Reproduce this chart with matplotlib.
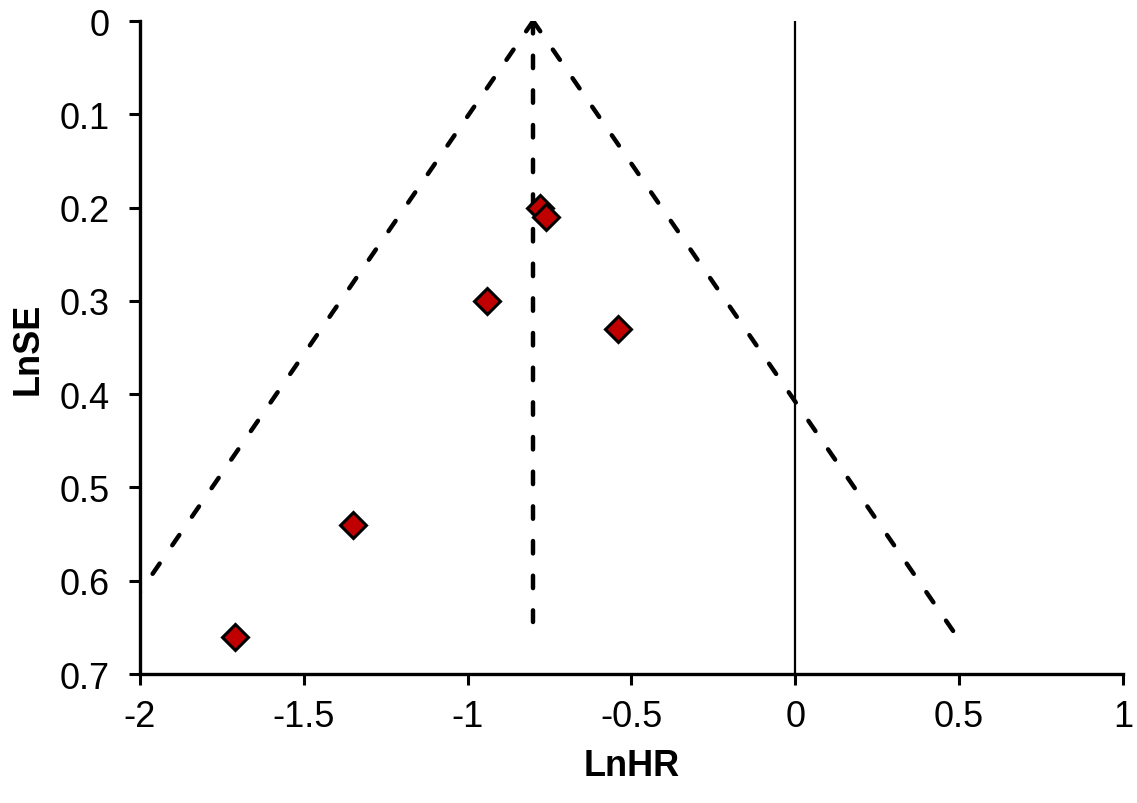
import numpy as np
import matplotlib
matplotlib.use("Agg")
import matplotlib.pyplot as plt
from matplotlib.ticker import FormatStrFormatter

plt.rcParams['font.family'] = ['Liberation Sans', 'DejaVu Sans']

# study estimates
ln_hr = [-0.78, -0.76, -0.94, -0.54, -1.35, -1.71]
ln_se = [0.20, 0.21, 0.30, 0.33, 0.54, 0.66]

pooled = -0.80        # pooled LnHR (centre of the funnel)
se_funnel = 0.654     # funnel limits drawn down to this SE
se_centre = 0.644     # centre line drawn down to this SE
x_ticks = [-2, -1.5, -1, -0.5, 0, 0.5, 1]
y_ticks = [0, 0.1, 0.2, 0.3, 0.4, 0.5, 0.6, 0.7]

fig = plt.figure(figsize=(11.37, 8.04), dpi=100)
ax = fig.add_axes([0.1231, 0.1604, 0.8646, 0.8122])

se_line = np.array([0, se_funnel])
dash = dict(color='black', lw=3.2, linestyle=(0, (2.8, 5.0)),
            dash_capstyle='round', zorder=2)
ax.plot(pooled - 1.96 * se_line, se_line, **dash)
ax.plot(pooled + 1.96 * se_line, se_line, **dash)
ax.plot([pooled, pooled], [0, se_centre], **dash)

# line of no effect
ax.plot([0, 0], [0, 0.7], color='black', lw=1.6, zorder=1)

ax.plot(ln_hr, ln_se, linestyle='none', marker='D', ms=13.5,
        markerfacecolor='#C00000', markeredgecolor='black', mew=2.2, zorder=3)

ax.set_xlim(-2, 1)
ax.set_ylim(0.7, 0)
ax.set_xticks(x_ticks)
ax.set_yticks(y_ticks)
ax.xaxis.set_major_formatter(FormatStrFormatter('%g'))
ax.yaxis.set_major_formatter(FormatStrFormatter('%g'))

for s in ['top', 'right']:
    ax.spines[s].set_visible(False)
for s in ['left', 'bottom']:
    ax.spines[s].set_linewidth(2.4)
ax.tick_params(axis='both', direction='out', length=8, width=2.2,
               labelsize=26)
ax.tick_params(axis='y', pad=14)
ax.tick_params(axis='x', pad=10)

ax.set_xlabel('LnHR', fontsize=26, fontweight='bold', labelpad=10)
ax.set_ylabel('LnSE', fontsize=26, fontweight='bold', labelpad=10)

fig.savefig('out.png', dpi=100)
